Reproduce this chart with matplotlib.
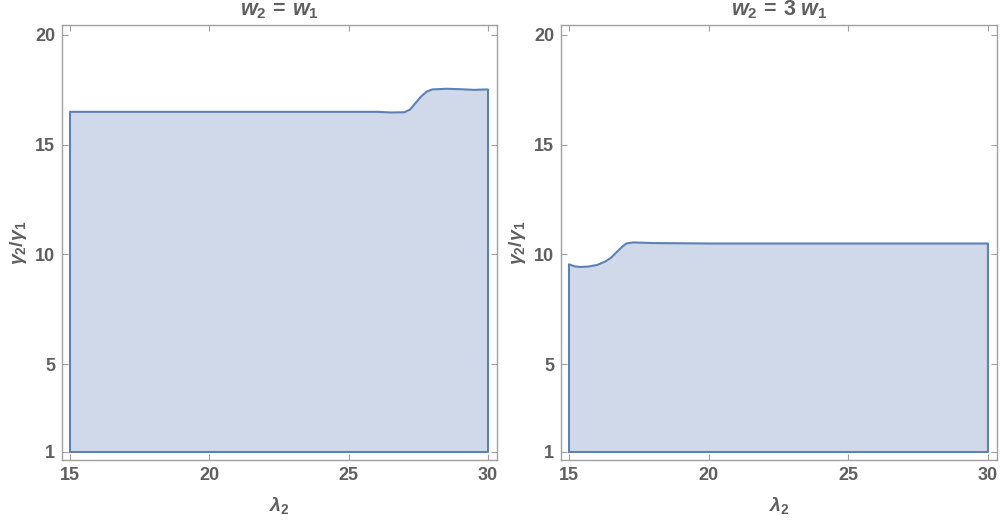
import matplotlib
matplotlib.use("Agg")
import matplotlib.pyplot as plt

# boundary of the region (top edge)
x_left = [15, 26.0, 26.5, 27.0, 27.2, 27.4, 27.6, 27.8, 28.0, 28.5, 29.0, 29.5, 30]
y_left = [16.5, 16.5, 16.47, 16.48, 16.6, 16.9, 17.2, 17.42, 17.52, 17.55, 17.53, 17.5, 17.52]

x_right = [15, 15.2, 15.4, 15.7, 16.0, 16.3, 16.5, 16.7, 16.9, 17.05, 17.3, 18.0, 20, 25, 30]
y_right = [9.55, 9.46, 9.43, 9.45, 9.52, 9.68, 9.85, 10.1, 10.35, 10.5, 10.55, 10.52, 10.5, 10.5, 10.5]

y_bottom = 1
titles = [r"$w_2\,=\,w_1$", r"$w_2\,=\,3\;w_1$"]
xticks = [15, 20, 25, 30]
yticks = [1, 5, 10, 15, 20]

plt.rcParams["font.family"] = ["Liberation Sans", "DejaVu Sans"]
plt.rcParams["font.weight"] = "bold"
plt.rcParams["mathtext.fontset"] = "custom"
plt.rcParams["mathtext.rm"] = "Liberation Sans:bold"
plt.rcParams["mathtext.it"] = "Liberation Sans:italic:bold"
plt.rcParams["mathtext.bf"] = "Liberation Sans:bold"

text_col = "#5f5f5f"
frame_col = "#a0a0a0"
line_col = "#5e81b5"
fill_col = "#cfd9e9"

fig = plt.figure(figsize=(10, 5.25), dpi=100)
positions = [[0.062, 0.1238, 0.435, 0.8286], [0.561, 0.1238, 0.436, 0.8286]]

for pos, xs, ys, title in zip(positions, [x_left, x_right], [y_left, y_right], titles):
    ax = fig.add_axes(pos)
    px = [xs[0]] + xs + [xs[-1], xs[0]]
    py = [y_bottom] + ys + [y_bottom, y_bottom]
    ax.fill(px, py, color=fill_col, lw=0)
    ax.plot(px, py, color=line_col, lw=1.5, solid_joinstyle="round")
    ax.set_xlim(14.713, 30.323)
    ax.set_ylim(0.635, 20.456)
    ax.set_xticks(xticks, labels=[str(v) for v in xticks], fontsize=13,
                  fontweight="heavy", color=text_col)
    ax.set_yticks(yticks, labels=[str(v) for v in yticks], fontsize=13,
                  fontweight="heavy", color=text_col)
    ax.tick_params(direction="in", length=4.5, width=0.8, color=frame_col,
                   top=True, right=True, pad=5)
    for s in ax.spines.values():
        s.set_color(frame_col)
        s.set_linewidth(1.0)
    ax.set_xlabel(r"$\lambda_2$", fontsize=14, color=text_col, labelpad=8)
    ax.set_ylabel(r"$\gamma_2/\gamma_1$", fontsize=14, color=text_col, labelpad=4)
    fig.text(pos[0] + pos[2] / 2, 1 - 15 / 525, title, ha="center", va="baseline",
             fontsize=15.5, color=text_col)

fig.savefig("out.png", dpi=100)
